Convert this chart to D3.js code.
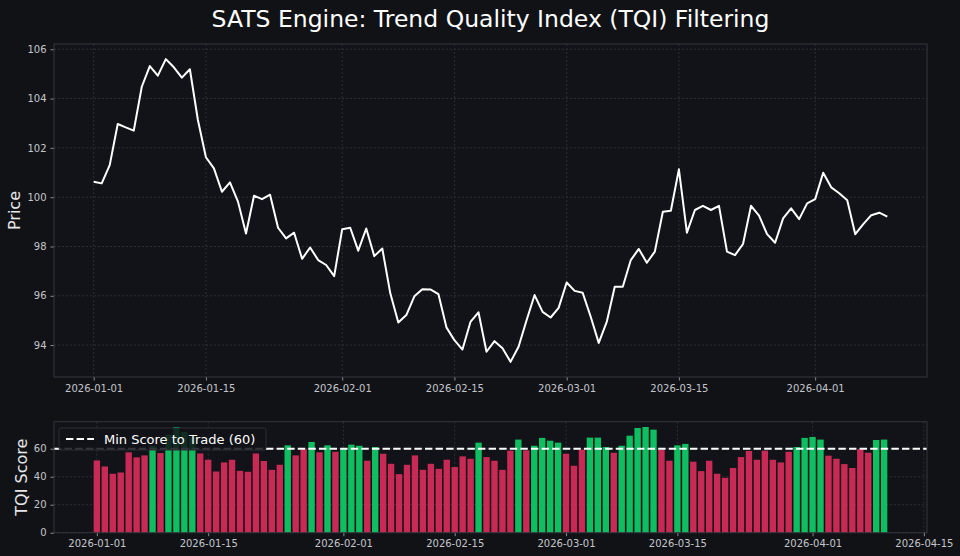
<!DOCTYPE html>
<html>
<head>
<meta charset="utf-8">
<script src="https://cdn.jsdelivr.net/npm/d3@7"></script>
<style>
  html, body { margin: 0; padding: 0; background: #111216; }
  svg { display: block; font-family: 'DejaVu Sans', sans-serif; }
</style>
</head>
<body>
<script>
// daily prices starting 2026-01-01
let prices = [
  100.63, 100.56, 101.30, 102.97, 102.83, 102.70, 104.48, 105.32, 104.93, 105.60,
  105.27, 104.85, 105.19, 103.13, 101.62, 101.17, 100.22, 100.60, 99.82, 98.53,
  100.06, 99.92, 100.10, 98.76, 98.33, 98.56, 97.50, 97.96, 97.45, 97.25,
  96.80, 98.70, 98.76, 97.83, 98.73, 97.61, 97.92, 96.10, 94.92, 95.22,
  95.98, 96.27, 96.26, 96.07, 94.72, 94.20, 93.82, 94.94, 95.33, 93.73,
  94.16, 93.87, 93.32, 93.93, 95.01, 96.03, 95.35, 95.12, 95.51, 96.54,
  96.20, 96.12, 95.15, 94.09, 94.94, 96.37, 96.37, 97.45, 97.90, 97.34,
  97.79, 99.41, 99.45, 101.13, 98.56, 99.48, 99.65, 99.48, 99.65, 97.79,
  97.65, 98.10, 99.65, 99.25, 98.50, 98.15, 99.14, 99.55, 99.11, 99.75,
  99.92, 100.99, 100.40, 100.16, 99.88, 98.50, 98.91, 99.27, 99.37, 99.21
]

let tqi = [
  51.6, 47.3, 42.1, 43.0, 57.4, 53.8, 55.2, 62.0, 56.9, 70.0,
  75.5, 72.0, 68.0, 56.6, 52.1, 43.7, 50.2, 52.1, 44.2, 43.5,
  56.6, 51.2, 44.9, 48.5, 62.4, 55.2, 59.5, 64.8, 57.4, 62.4,
  57.8, 60.5, 62.9, 62.1, 51.4, 61.2, 56.4, 49.2, 41.8, 48.5,
  55.2, 44.9, 49.2, 45.6, 52.1, 46.9, 54.5, 52.8, 64.3, 54.0,
  51.4, 44.9, 58.6, 66.5, 58.8, 62.1, 67.7, 65.7, 64.3, 56.4,
  47.8, 59.3, 67.9, 67.9, 61.2, 57.1, 62.1, 69.3, 74.8, 75.5,
  73.6, 59.3, 51.4, 62.4, 63.4, 50.7, 44.0, 51.4, 42.1, 39.2,
  46.2, 54.0, 58.4, 52.1, 58.6, 52.1, 50.2, 57.8, 61.2, 67.7,
  68.4, 66.5, 55.0, 52.8, 49.0, 46.2, 59.6, 57.1, 66.2, 66.5
]

let threshold = 60
let startDate = new Date(2026, 0, 1)
let dates = prices.map((p, i) => d3.timeDay.offset(startDate, i))

let topTicks = ['2026-01-01', '2026-01-15', '2026-02-01', '2026-02-15', '2026-03-01', '2026-03-15', '2026-04-01']
let bottomTicks = topTicks.concat(['2026-04-15'])
let priceTicks = [94, 96, 98, 100, 102, 104, 106]
let scoreTicks = [0, 20, 40, 60]

let W = 960, H = 556
let left = 54, right = 927
let topBox = { y0: 44, y1: 377 }
let botBox = { y0: 421.7, y1: 532.7 }

let parse = d3.timeParse('%Y-%m-%d')
let dayMs = 864e5
let pad = (a, b) => { let m = (b - a) * 0.05; return [a - m, b + m] }

// matplotlib-like padded x limits
let xTopDays = pad(0, prices.length - 1)
let xBotDays = pad(-0.4, prices.length - 1 + 0.4)
let toDate = d => new Date(startDate.getTime() + d * dayMs)

let xTop = d3.scaleTime().domain(xTopDays.map(toDate)).range([left, right])
let xBot = d3.scaleTime().domain(xBotDays.map(toDate)).range([left, right])

let yTop = d3.scaleLinear().domain(pad(d3.min(prices), d3.max(prices))).range([topBox.y1, topBox.y0])
let yBot = d3.scaleLinear().domain([0, d3.max(tqi) * 1.05]).range([botBox.y1, botBox.y0])

let svg = d3.select('body').append('svg')
    .attr('width', W)
    .attr('height', H)

svg.append('rect').attr('width', W).attr('height', H).attr('fill', '#111216')

const gridColor = '#2c2f37'
const spineColor = '#33363e'
const tickText = '#c4c6cc'

function panel(box, x, y, xt, yt) {
  let g = svg.append('g')
  g.append('rect')
    .attr('x', left).attr('y', box.y0)
    .attr('width', right - left).attr('height', box.y1 - box.y0)
    .attr('fill', '#121318')

  // grid
  g.selectAll('.gx').data(xt).enter().append('line')
    .attr('x1', d => x(parse(d))).attr('x2', d => x(parse(d)))
    .attr('y1', box.y0).attr('y2', box.y1)
    .attr('stroke', gridColor).attr('stroke-dasharray', '2,2')
  g.selectAll('.gy').data(yt).enter().append('line')
    .attr('x1', left).attr('x2', right)
    .attr('y1', d => y(d)).attr('y2', d => y(d))
    .attr('stroke', gridColor).attr('stroke-dasharray', '2,2')

  let xAxis = g.append('g')
    .attr('transform', 'translate(0,' + box.y1 + ')')
    .call(d3.axisBottom(x).tickValues(xt.map(parse)).tickFormat(d3.timeFormat('%Y-%m-%d')).tickSizeOuter(0).tickSize(3.5).tickPadding(4))
  let yAxis = g.append('g')
    .attr('transform', 'translate(' + left + ',0)')
    .call(d3.axisLeft(y).tickValues(yt).tickFormat(d3.format('d')).tickSizeOuter(0).tickSize(3.5).tickPadding(4))

  for (let a of [xAxis, yAxis]) {
    a.select('.domain').remove()
    a.selectAll('line').attr('stroke', '#8a8d94')
    a.selectAll('text').attr('fill', tickText).style('font-size', '10px').style('font-family', 'DejaVu Sans')
  }
  return g
}

function spines(box) {
  svg.append('rect')
    .attr('x', left).attr('y', box.y0)
    .attr('width', right - left).attr('height', box.y1 - box.y0)
    .attr('fill', 'none').attr('stroke', spineColor).attr('stroke-width', 1)
}

// top panel: price
panel(topBox, xTop, yTop, topTicks, priceTicks)

let line = d3.line()
  .x((d, i) => xTop(dates[i]))
  .y(d => yTop(d))

svg.append('path')
  .datum(prices)
  .attr('d', line)
  .attr('fill', 'none')
  .attr('stroke', '#ffffff')
  .attr('stroke-width', 2)
  .attr('stroke-linejoin', 'round')
spines(topBox)

// bottom panel: TQI bars
panel(botBox, xBot, yBot, bottomTicks, scoreTicks)

let barW = xBot(toDate(0.8)) - xBot(toDate(0))
svg.append('g').selectAll('rect')
  .data(tqi)
  .enter()
  .append('rect')
  .attr('x', (d, i) => xBot(dates[i]) - barW / 2)
  .attr('width', barW)
  .attr('y', d => yBot(d))
  .attr('height', d => yBot(0) - yBot(d))
  .attr('fill', d => d >= threshold ? '#0fc764' : '#d42b59')
  .attr('opacity', 0.95)

svg.append('line')
  .attr('x1', left).attr('x2', right)
  .attr('y1', yBot(threshold)).attr('y2', yBot(threshold))
  .attr('stroke', '#ffffff').attr('stroke-width', 2)
  .attr('stroke-dasharray', '7.4,3.2')
spines(botBox)

// legend
let lg = svg.append('g').attr('transform', 'translate(59,428)')
lg.append('rect')
  .attr('width', 207).attr('height', 22).attr('rx', 2)
  .attr('fill', '#121318').attr('fill-opacity', 0.85)
  .attr('stroke', '#2c2f37')
lg.append('line')
  .attr('x1', 7).attr('x2', 35).attr('y1', 11).attr('y2', 11)
  .attr('stroke', '#ffffff').attr('stroke-width', 2)
  .attr('stroke-dasharray', '7.4,3.2')
lg.append('text')
  .attr('x', 45).attr('y', 15.5)
  .attr('fill', '#ffffff')
  .style('font-size', '13px')
  .text('Min Score to Trade (60)')

// titles
svg.append('text')
  .attr('x', (left + right) / 2).attr('y', 27)
  .attr('text-anchor', 'middle')
  .attr('fill', '#ffffff')
  .style('font-size', '23.5px')
  .text('SATS Engine: Trend Quality Index (TQI) Filtering')

svg.append('text')
  .attr('transform', 'translate(20,' + (topBox.y0 + topBox.y1) / 2 + ') rotate(-90)')
  .attr('text-anchor', 'middle')
  .attr('fill', '#e6e7ea')
  .style('font-size', '16px')
  .text('Price')

svg.append('text')
  .attr('transform', 'translate(27,' + (botBox.y0 + botBox.y1) / 2 + ') rotate(-90)')
  .attr('text-anchor', 'middle')
  .attr('fill', '#e6e7ea')
  .style('font-size', '16px')
  .text('TQI Score')
</script>
</body>
</html>
